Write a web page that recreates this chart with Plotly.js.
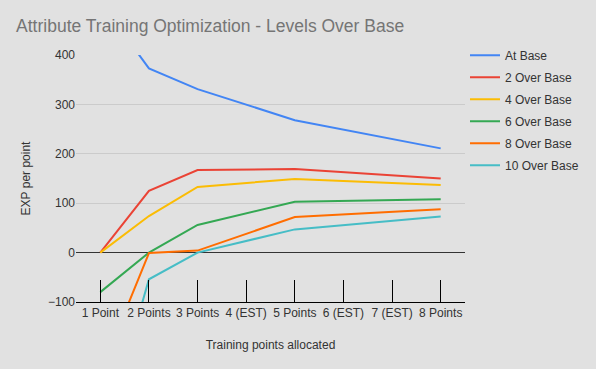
<!DOCTYPE html>
<html>
<head>
<meta charset="utf-8">
<script src="https://cdn.plot.ly/plotly-3.0.1.min.js"></script>
<style>html,body{margin:0;padding:0;background:#e1e1e1;}#chart{width:596px;height:369px;}</style>
</head>
<body>
<div id="chart"></div>
<script>
var categories = ["1 Point", "2 Points", "3 Points", "4 (EST)", "5 Points", "6 (EST)", "7 (EST)", "8 Points"];
var seriesNames = ["At Base", "2 Over Base", "4 Over Base", "6 Over Base", "8 Over Base", "10 Over Base"];
var atBase     = [507, 373, 331, null, 268, null, null, 211];
var over2      = [0, 125, 167, null, 169, null, null, 150];
var over4      = [0, 74, 133, null, 149, null, null, 137];
var over6      = [-80, 0, 56, null, 103, null, null, 108];
var over8      = [-243, -1, 4, null, 72, null, null, 88];
var over10     = [-398, -54, 0, null, 47, null, null, 73];
var colors = ["#4285f4", "#ea4335", "#fbbc04", "#34a853", "#ff6d01", "#46bdc6"];
var yTicks = [-100, 0, 100, 200, 300, 400];

var allSeries = [atBase, over2, over4, over6, over8, over10];
var traces = allSeries.map(function (vals, i) {
  return {
    x: categories, y: vals, type: "scatter", mode: "lines",
    name: seriesNames[i], connectgaps: true, legendgroup: "g" + i,
    line: {color: colors[i], width: 2}, hoverinfo: "x+y+name"
  };
});

var layout = {
  width: 596, height: 369,
  paper_bgcolor: "#e1e1e1", plot_bgcolor: "#e1e1e1",
  font: {family: "Liberation Sans, Arial, sans-serif", size: 12, color: "#333"},
  margin: {l: 76, r: 131, t: 55, b: 67},
  title: {text: "Attribute Training Optimization - Levels Over Base", x: 0.027, xanchor: "left", y: 0.93, yanchor: "middle",
          font: {size: 17.5, color: "#757575"}},
  xaxis: {
    type: "category", range: [-0.5, 7.5], showgrid: false, zeroline: false,
    showline: true, linecolor: "#000", linewidth: 1,
    ticks: "inside", ticklen: 22, tickcolor: "#000", tickwidth: 1,
    tickfont: {size: 12, color: "#333"},
    title: {text: "Training points allocated", font: {size: 12, color: "#333"}, standoff: 21}
  },
  yaxis: {
    range: [-100, 400], tickvals: yTicks, showgrid: true, gridcolor: "#cbcbcb", gridwidth: 1,
    zeroline: true, zerolinecolor: "#333", zerolinewidth: 1,
    showline: false, ticks: "", tickfont: {size: 12, color: "#333"},
    title: {text: "EXP per point", font: {size: 12, color: "#333"}, standoff: 14}
  },
  showlegend: true,
  legend: {x: 1.0, xanchor: "left", y: 1.058, yanchor: "top", bgcolor: "rgba(0,0,0,0)",
           font: {size: 12, color: "#333"}, tracegroupgap: 3, itemwidth: 30},
  hovermode: "closest"
};

Plotly.newPlot("chart", traces, layout, {displayModeBar: false, responsive: false});
</script>
</body>
</html>
